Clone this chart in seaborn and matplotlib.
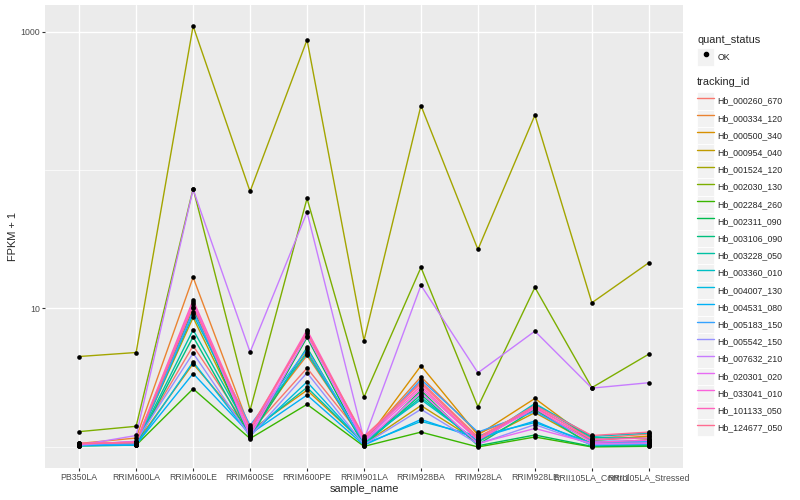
import numpy as np
import pandas as pd
import seaborn as sns
import matplotlib
matplotlib.use("Agg")
import matplotlib.pyplot as plt
from matplotlib.patches import Rectangle
from matplotlib.lines import Line2D
from matplotlib.legend_handler import HandlerTuple

samples = ["PB350LA", "RRIM600LA", "RRIM600LE", "RRIM600SE", "RRIM600PE", "RRIM901LA",
           "RRIM928BA", "RRIM928LA", "RRIM928LE", "RRII105LA_Control", "RRII105LA_Stressed"]

tracking_ids = ["Hb_000260_670", "Hb_000334_120", "Hb_000500_340", "Hb_000954_040",
                "Hb_001524_120", "Hb_002030_130", "Hb_002284_260", "Hb_002311_090",
                "Hb_003106_090", "Hb_003228_050", "Hb_003360_010", "Hb_004007_130",
                "Hb_004531_080", "Hb_005183_150", "Hb_005542_150", "Hb_007632_210",
                "Hb_020301_020", "Hb_033041_010", "Hb_101133_050", "Hb_124677_050"]

# FPKM + 1, one value per sample (same order as samples)
hb_000260_670 = [1.05, 1.08, 5.38, 1.29, 3.71, 1.14, 2.96, 1.18, 1.93, 1.15, 1.24]
hb_000334_120 = [1.06, 1.16, 16.8, 1.35, 4.58, 1.11, 3.21, 1.25, 1.84, 1.12, 1.19]
hb_000500_340 = [1.05, 1.07, 3.99, 1.31, 2.57, 1.07, 3.86, 1.22, 2.24, 1.11, 1.20]
hb_000954_040 = [1.04, 1.06, 8.61, 1.23, 4.89, 1.05, 1.99, 1.09, 1.77, 1.05, 1.13]
hb_001524_120 = [4.50, 4.81, 1096, 70.0, 871, 5.87, 292, 26.7, 249, 11.0, 21.4]
hb_002030_130 = [1.29, 1.41, 73.5, 1.84, 62.3, 2.29, 19.8, 1.95, 14.2, 2.68, 4.68]
hb_002284_260 = [1.02, 1.03, 2.63, 1.15, 2.03, 1.01, 1.28, 1.00, 1.18, 1.00, 1.01]
hb_002311_090 = [1.03, 1.04, 10.0, 1.16, 6.18, 1.02, 2.56, 1.02, 1.22, 1.01, 1.02]
hb_003106_090 = [1.02, 1.04, 6.25, 1.18, 5.23, 1.03, 2.39, 1.04, 1.87, 1.02, 1.04]
hb_003228_050 = [1.03, 1.05, 7.02, 1.27, 2.69, 1.06, 2.28, 1.08, 2.03, 1.17, 1.15]
hb_003360_010 = [1.04, 1.05, 9.05, 1.40, 4.73, 1.10, 2.20, 1.10, 2.06, 1.19, 1.26]
hb_004007_130 = [1.02, 1.03, 4.12, 1.21, 2.95, 1.05, 1.53, 1.20, 1.50, 1.07, 1.08]
hb_004531_080 = [1.03, 1.04, 3.39, 1.24, 2.37, 1.03, 1.58, 1.15, 1.54, 1.03, 1.05]
hb_005183_150 = [1.04, 1.05, 9.51, 1.43, 5.06, 1.08, 3.07, 1.28, 1.80, 1.10, 1.10]
hb_005542_150 = [1.03, 1.10, 4.76, 1.19, 3.43, 1.04, 1.87, 1.05, 1.45, 1.04, 1.06]
hb_007632_210 = [1.03, 1.21, 72.5, 4.84, 49.6, 1.13, 14.7, 3.43, 6.86, 2.66, 2.91]
hb_020301_020 = [1.05, 1.09, 10.7, 1.20, 6.38, 1.09, 2.47, 1.06, 1.36, 1.06, 1.07]
hb_033041_010 = [1.06, 1.08, 11.05, 1.26, 6.83, 1.12, 2.64, 1.12, 1.90, 1.08, 1.12]
hb_101133_050 = [1.05, 1.09, 11.5, 1.33, 7.0, 1.16, 2.75, 1.13, 1.96, 1.13, 1.16]
hb_124677_050 = [1.06, 1.07, 10.3, 1.37, 6.6, 1.19, 2.87, 1.16, 1.99, 1.21, 1.28]

series = [hb_000260_670, hb_000334_120, hb_000500_340, hb_000954_040, hb_001524_120,
          hb_002030_130, hb_002284_260, hb_002311_090, hb_003106_090, hb_003228_050,
          hb_003360_010, hb_004007_130, hb_004531_080, hb_005183_150, hb_005542_150,
          hb_007632_210, hb_020301_020, hb_033041_010, hb_101133_050, hb_124677_050]

# ggplot default hue palette for 20 levels
palette = ["#F8766D", "#EA8331", "#D89000", "#C09B00", "#A3A500", "#7CAE00", "#39B600",
           "#00BB4E", "#00BF7D", "#00C1A3", "#00BFC4", "#00BAE0", "#00B0F6", "#35A2FF",
           "#9590FF", "#C77CFF", "#E76BF3", "#FA62DB", "#FF62BC", "#FF6C91"]

rows = []
for tid, vals in zip(tracking_ids, series):
    for i, (s, v) in enumerate(zip(samples, vals)):
        rows.append({"tracking_id": tid, "sample_name": s, "pos": i,
                     "fpkm1": v, "quant_status": "OK"})
df = pd.DataFrame(rows)

sns.set_theme(style="darkgrid", rc={"axes.facecolor": "#EBEBEB", "grid.color": "white"})
plt.rcParams["font.family"] = ["Liberation Sans", "DejaVu Sans"]

fig = plt.figure(figsize=(8, 5), dpi=100)
ax = fig.add_axes([45 / 800, 1 - 468 / 500, 638 / 800, 463 / 500])

sns.lineplot(data=df, x="pos", y="fpkm1", hue="tracking_id", hue_order=tracking_ids,
             palette=palette, estimator=None, linewidth=1.0, legend=False, ax=ax)
sns.scatterplot(data=df, x="pos", y="fpkm1", color="black", s=11, linewidth=0,
                legend=False, ax=ax, zorder=5)

ax.set_yscale("log")
lo, hi = np.log10(df["fpkm1"].min()), np.log10(df["fpkm1"].max())
pad = 0.05 * (hi - lo)
ax.set_ylim(10 ** (lo - pad), 10 ** (hi + pad))
ax.set_xlim(-0.6, len(samples) - 0.4)

ax.set_yticks([10, 1000])
ax.set_yticklabels(["10", "1000"])
ax.set_yticks([1, 100], minor=True)
ax.set_yticklabels([], minor=True)
ax.set_xticks(range(len(samples)))
ax.set_xticklabels(samples)

ax.grid(which="major", color="white", linewidth=1.0)
ax.grid(which="minor", axis="y", color="white", linewidth=0.5)
ax.grid(which="minor", axis="x", visible=False)
for sp in ax.spines.values():
    sp.set_visible(False)
ax.tick_params(which="major", length=2, width=0.8, color="#333333",
               labelcolor="#4D4D4D", labelsize=6.3, pad=1.6)
ax.tick_params(which="minor", length=0)
ax.tick_params(axis="both", which="both", bottom=True, left=True)

ax.set_xlabel("sample_name", fontsize=7.9, labelpad=1.5)
ax.set_ylabel("FPKM + 1", fontsize=7.9, labelpad=1.5)

# legends (ggplot-style grey key boxes)
def key_box():
    return Rectangle((0, 0), 1, 1, facecolor="#F2F2F2", edgecolor="white", linewidth=0.6)

fs = 6.3
key = 17.2 / (100 / 72) / fs          # key size in font units
key_h = (key - 0.245) / 0.65          # matplotlib's handleheight so the row is key tall
common = dict(loc="upper left", frameon=False, fontsize=fs,
              handler_map={tuple: HandlerTuple(ndivide=1, pad=0)},
              handlelength=key, handleheight=key_h, handletextpad=0.35,
              labelspacing=0, borderpad=0, borderaxespad=0)

fig.text(697 / 800, 1 - 40 / 500, "quant_status", fontsize=7.9, va="center", ha="left")
ok_handle = (key_box(), Line2D([], [], marker="o", ls="", color="black", markersize=3))
leg1 = fig.legend([ok_handle], ["OK"], bbox_to_anchor=(697 / 800, 1 - 48.4 / 500), **common)

fig.text(697 / 800, 1 - 82 / 500, "tracking_id", fontsize=7.9, va="center", ha="left")
line_handles = [(key_box(), Line2D([], [], color=c, linewidth=1.0)) for c in palette]
leg2 = fig.legend(line_handles, tracking_ids, bbox_to_anchor=(697 / 800, 1 - 92.4 / 500),
                  **common)

fig.savefig("out.png", dpi=100)
